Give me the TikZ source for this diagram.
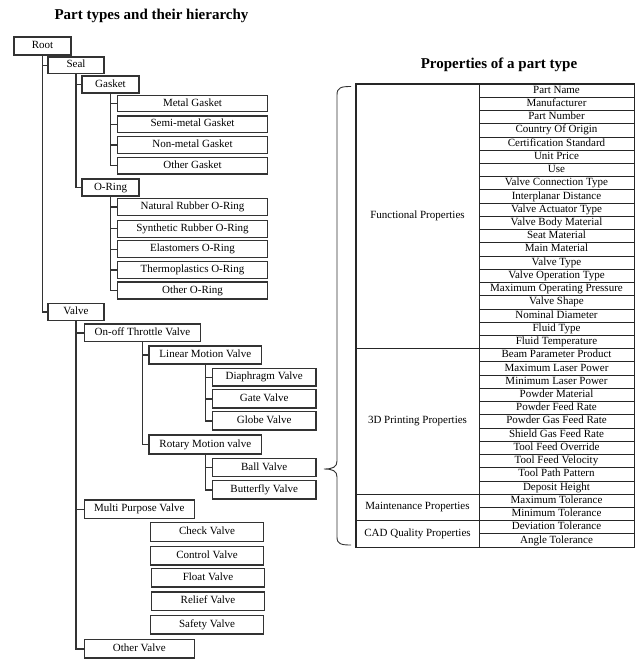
\documentclass[tikz,border=0pt]{standalone}
\usepackage{fontspec}
\setmainfont{Liberation Serif}
\begin{document}
\begin{tikzpicture}[x=1pt,y=-1pt,
  box/.style={draw=black!80, line width=1.4pt, inner sep=0pt, text height=7.6pt, text depth=2.4pt, font=\fontsize{11}{12}\selectfont},
  link/.style={draw=black!80, line width=1.4pt},
  cell/.style={draw=black!85, line width=0.8pt, inner sep=0pt, font=\fontsize{11}{12}\selectfont},
  rowcell/.style={cell, minimum width=155pt, minimum height=13.23pt, text height=7.6pt, text depth=2.4pt},
  groupcell/.style={cell, minimum width=123pt},
  title/.style={font=\fontsize{15}{17}\selectfont\bfseries}]
\useasboundingbox (0,0) rectangle (638,660);

% headings
\node[title] (t1) at (151.5,16) {Part types and their hierarchy};
\node[title] (t2) at (499,65) {Properties of a part type};

% ---- part type hierarchy ----
\node[box, minimum width=57pt, minimum height=18pt] (root) at (42.5,46) {Root};
\node[box, minimum width=56pt, minimum height=16.5pt] (seal) at (76,65.3) {Seal};
\node[box, minimum width=57pt, minimum height=17pt] (gasket) at (110.5,84.5) {Gasket};
\node[box, minimum width=150pt, minimum height=16.5pt] (metal) at (192.5,103.5) {Metal Gasket};
\node[box, minimum width=150pt, minimum height=16.5pt] (semimetal) at (192.5,124.3) {Semi-metal Gasket};
\node[box, minimum width=150pt, minimum height=16.5pt] (nonmetal) at (192.5,145) {Non-metal Gasket};
\node[box, minimum width=150pt, minimum height=16.5pt] (othergasket) at (192.5,165.7) {Other Gasket};
\node[box, minimum width=57pt, minimum height=17pt] (oring) at (110.5,187.5) {O-Ring};
\node[box, minimum width=150pt, minimum height=17pt] (natural) at (192.5,207.2) {Natural Rubber O-Ring};
\node[box, minimum width=150pt, minimum height=17pt] (synthetic) at (192.5,228.7) {Synthetic Rubber O-Ring};
\node[box, minimum width=150pt, minimum height=17pt] (elastomer) at (192.5,249.2) {Elastomers O-Ring};
\node[box, minimum width=150pt, minimum height=17pt] (thermo) at (192.5,269.8) {Thermoplastics O-Ring};
\node[box, minimum width=150pt, minimum height=17pt] (otheroring) at (192.5,290.5) {Other O-Ring};

\node[box, minimum width=56pt, minimum height=17.4pt] (valve) at (76,312) {Valve};
\node[box, minimum width=116.4pt, minimum height=17.7pt] (onoff) at (142.5,332.9) {On-off Throttle Valve};
\node[box, minimum width=112.7pt, minimum height=18pt] (linear) at (205.3,355) {Linear Motion Valve};
\node[box, minimum width=103.7pt, minimum height=17.7pt] (diaphragm) at (264.2,377.2) {Diaphragm Valve};
\node[box, minimum width=103.7pt, minimum height=18.5pt] (gate) at (264.2,398.8) {Gate Valve};
\node[box, minimum width=103.7pt, minimum height=18.5pt] (globe) at (264.2,420.8) {Globe Valve};
\node[box, minimum width=112.7pt, minimum height=19pt] (rotary) at (205.3,444.5) {Rotary Motion valve};
\node[box, minimum width=103.7pt, minimum height=18.4pt] (ball) at (264.2,467.5) {Ball Valve};
\node[box, minimum width=103.7pt, minimum height=18.4pt] (butterfly) at (264.2,489.8) {Butterfly Valve};
\node[box, minimum width=110pt, minimum height=18.3pt] (multi) at (139.3,509.2) {Multi Purpose Valve};
\node[box, minimum width=112.6pt, minimum height=18.6pt] (check) at (207,532) {Check Valve};
\node[box, minimum width=112.6pt, minimum height=18.6pt] (control) at (207,555.5) {Control Valve};
\node[box, minimum width=112.6pt, minimum height=18.6pt] (float) at (208,577.8) {Float Valve};
\node[box, minimum width=112.6pt, minimum height=18.6pt] (relief) at (208,601.2) {Relief Valve};
\node[box, minimum width=112.6pt, minimum height=18.6pt] (safety) at (207,624.8) {Safety Valve};
\node[box, minimum width=110pt, minimum height=18.6pt] (othervalve) at (139.3,648.8) {Other Valve};

% elbow connectors from each parent to its children
\foreach \p/\c in {root/seal, root/valve,
                   seal/gasket, seal/oring,
                   gasket/metal, gasket/semimetal, gasket/nonmetal, gasket/othergasket,
                   oring/natural, oring/synthetic, oring/elastomer, oring/thermo, oring/otheroring,
                   valve/onoff, valve/multi, valve/othervalve,
                   onoff/linear, onoff/rotary,
                   linear/diaphragm, linear/gate, linear/globe,
                   rotary/ball, rotary/butterfly}
  \draw[link] (\p.south) |- (\c.west);

% ---- property table ----
\foreach \t [count=\i] in {Part Name, Manufacturer, Part Number, Country Of Origin,
    Certification Standard, Unit Price, Use, Valve Connection Type, Interplanar Distance,
    Valve Actuator Type, Valve Body Material, Seat Material, Main Material, Valve Type,
    Valve Operation Type, Maximum Operating Pressure, Valve Shape, Nominal Diameter,
    Fluid Type, Fluid Temperature,
    Beam Parameter Product, Maximum Laser Power, Minimum Laser Power, Powder Material,
    Powder Feed Rate, Powder Gas Feed Rate, Shield Gas Feed Rate, Tool Feed Override,
    Tool Feed Velocity, Tool Path Pattern, Deposit Height,
    Maximum Tolerance, Minimum Tolerance,
    Deviation Tolerance, Angle Tolerance}
  \node[rowcell] (p\i) at (556.5,{84+(\i-0.5)*13.23}) {\t};

\node[groupcell, minimum height=264.6pt] (func) at (417.5,216.3) {Functional Properties};
\node[groupcell, minimum height=145.53pt] (print) at (417.5,421.4) {3D Printing Properties};
\node[groupcell, minimum height=26.46pt] (maint) at (417.5,507.4) {Maintenance Properties};
\node[groupcell, minimum height=26.46pt] (cad) at (417.5,533.8) {CAD Quality Properties};
\draw[cell, line width=1.2pt] (func.north west) rectangle (p35.south east);

% curly brace gathering the properties
\draw[link, line width=0.9pt] (351,86.5) .. controls (341,86.5) and (337,87.5) .. (337,95)
  -- (337,461) .. controls (337,467) and (333,469) .. (324,469)
  .. controls (333,469) and (337,471) .. (337,477)
  -- (337,537) .. controls (337,544) and (341,545) .. (351,545);
\end{tikzpicture}
\end{document}
